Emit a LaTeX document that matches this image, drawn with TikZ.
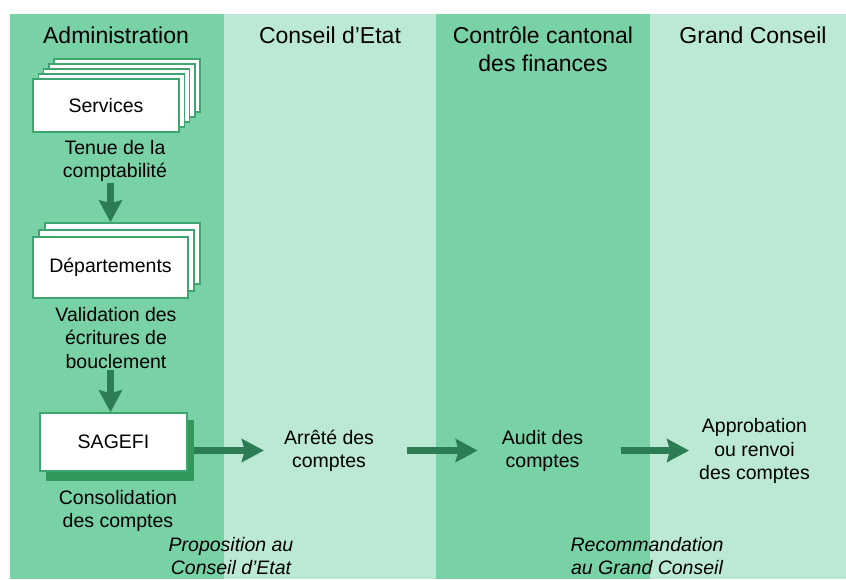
\documentclass[tikz,border=0pt]{standalone}
\usepackage{fontspec}
\setmainfont{Liberation Sans}
\usetikzlibrary{arrows.meta}
\definecolor{coldark}{HTML}{79D1A6}
\definecolor{collight}{HTML}{BCE9D3}
\definecolor{boxline}{HTML}{3FA56E}
\definecolor{shadowgreen}{HTML}{33985E}
\definecolor{arrowgreen}{HTML}{2D7D54}
\begin{document}
\begin{tikzpicture}[x=1pt,y=-1pt,
  title/.style={inner sep=0pt,align=center,font=\fontsize{23}{28}\selectfont},
  body/.style={inner sep=0pt,align=center,font=\fontsize{19.5}{23.5}\selectfont},
  note/.style={body,font=\fontsize{19.5}{23.5}\selectfont\itshape},
  card/.style={draw=boxline,fill=white,line width=1.5pt,inner sep=0pt},
  arr/.style={draw=arrowgreen,line width=6.5pt,-{Stealth[length=22pt,width=23pt,inset=3pt]}}
]
\useasboundingbox (0,0) rectangle (846,579);
\fill[white] (0,0) rectangle (846,579);
% columns
\fill[coldark] (10,14) rectangle (224,579);
\fill[collight] (224,14) rectangle (436,579);
\fill[coldark] (436,14) rectangle (650,579);
\fill[collight] (650,14) rectangle (846,579);
% titles
\node[title] (tadmin) at (116,35) {Administration};
\node[title] (tce) at (330,35) {Conseil d’Etat};
\node[title] (tccf) at (543,49) {Contrôle cantonal\\des finances};
\node[title] (tgc) at (753,35) {Grand Conseil};
% Services stack
\foreach \k in {4,3,2,1} {
  \node[card,minimum width=146pt,minimum height=53pt] (svc\k) at ({106+5.25*\k},{105.5-5*\k}) {};
}
\node[card,minimum width=146pt,minimum height=53pt] (svc) at (106,105.5) {};
\node[body] (svctext) at (svc.center) {Services};
\node[body] (tenue) at (115,161) {Tenue de la\\comptabilité};
% Departements stack
\foreach \k in {2,1} {
  \node[card,minimum width=155pt,minimum height=61pt] (dep\k) at ({110.5+6*\k},{267.5-7*\k}) {};
}
\node[card,minimum width=155pt,minimum height=61pt] (dep) at (110.5,267.5) {};
\node[body] (deptext) at (dep.center) {Départements};
\node[body] (valid) at (116,338) {Validation des\\écritures de\\bouclement};
% SAGEFI
\node[fill=shadowgreen,inner sep=0pt,minimum width=148pt,minimum height=61pt] (sagshadow) at (120,450.5) {};
\node[card,minimum width=147pt,minimum height=58pt] (sagefi) at (113.5,442) {};
\node[body] (sagtext) at (sagefi.center) {SAGEFI};
\node[body] (consol) at (118,511) {Consolidation\\des comptes};
% other columns
\node[body] (arrete) at (329,451) {Arrêté des\\comptes};
\node[body] (audit) at (542.5,451) {Audit des\\comptes};
\node[body] (approb) at (754.5,451) {Approbation\\ou renvoi\\des comptes};
% notes
\node[note] (propo) at (231,556) {Proposition au\\Conseil d’Etat};
\node[note] (recom) at (647,556) {Recommandation\\au Grand Conseil};
% arrows
\draw[arr,shorten <=1pt] (dep.north |- tenue.south) -- (dep.north |- dep2.north);
\draw[arr,shorten <=1pt] (dep.north |- valid.south) -- (dep.north |- sagefi.north);
\draw[arr,shorten >=20pt] (sagshadow.east) -- (sagshadow.east -| arrete.west);
\draw[arr,shorten <=33pt,shorten >=24pt] (arrete.east |- sagshadow.east) -- (audit.west |- sagshadow.east);
\draw[arr,shorten <=38pt,shorten >=10pt] (audit.east |- sagshadow.east) -- (approb.west |- sagshadow.east);
\end{tikzpicture}
\end{document}
